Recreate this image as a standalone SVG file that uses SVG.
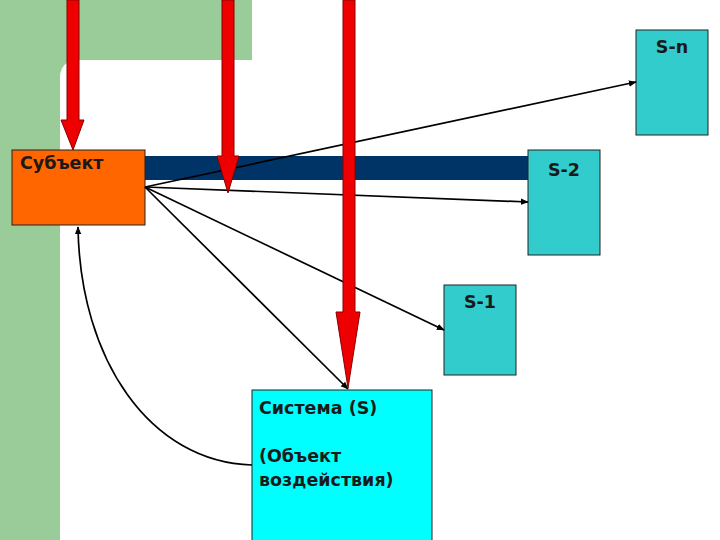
<svg xmlns="http://www.w3.org/2000/svg" width="720" height="540" viewBox="0 0 720 540">
<style>
.lbl{font-family:"DejaVu Sans","Liberation Sans",sans-serif;font-weight:bold;font-size:17.5px;fill:#1a1a1a}
.box{stroke:#222;stroke-width:1}
.con{stroke:#000;stroke-width:1.7;fill:none}
.red{fill:#EE0000;stroke:#880000;stroke-width:1}
</style>
<defs>
<marker id="ah" viewBox="0 0 10 10" refX="9" refY="5" markerWidth="8" markerHeight="8" orient="auto" markerUnits="userSpaceOnUse">
<path d="M0,1 L10,5 L0,9 Z" fill="#000"/>
</marker>
</defs>
<rect width="720" height="540" fill="#fff"/>
<g id="background">
<rect x="0" y="0" width="60" height="540" fill="#99CC99"/>
<path d="M60,0 H252 V60 H75 Q62,62 60,75 Z" fill="#99CC99"/>
<rect x="145" y="156" width="385" height="24" fill="#003366"/>
</g>
<g id="subject">
<rect class="box" x="12" y="150" width="133" height="75" fill="#FF6600"/>
<text class="lbl" x="20" y="169">Субъект</text>
</g>
<g id="s2">
<rect class="box" x="528" y="150" width="72" height="105" fill="#33CCCC"/>
<text class="lbl" x="564" y="176" text-anchor="middle">S-2</text>
</g>
<g id="s1">
<rect class="box" x="444" y="285" width="72" height="90" fill="#33CCCC"/>
<text class="lbl" x="480" y="308" text-anchor="middle">S-1</text>
</g>
<g id="sn">
<rect class="box" x="636" y="30" width="72" height="105" fill="#33CCCC"/>
<text class="lbl" x="672" y="53" text-anchor="middle">S-n</text>
</g>
<g id="system">
<rect class="box" x="252" y="390" width="180" height="155" fill="#00FFFF"/>
<text class="lbl" x="259" y="414">Система (S)</text>
<text class="lbl" x="259" y="462">(Объект</text>
<text class="lbl" x="259" y="486">воздействия)</text>
</g>
<g id="connectors">
<line class="con" x1="145" y1="187" x2="636" y2="82" marker-end="url(#ah)"/>
<line class="con" x1="145" y1="187" x2="528" y2="202" marker-end="url(#ah)"/>
<line class="con" x1="145" y1="187" x2="444" y2="330" marker-end="url(#ah)"/>
<line class="con" x1="145" y1="187" x2="348" y2="389" marker-end="url(#ah)"/>
<path class="con" d="M252,465 C150,462 80,360 78,227" marker-end="url(#ah)"/>
</g>
<g id="red-arrows">
<path class="red" d="M67,0 H79 V120 H84 L73,150 L61,120 H67 Z"/>
<path class="red" d="M222,0 H234 V156 H239 L228,193 L217,156 H222 Z"/>
<path class="red" d="M343,0 H355 V312 H360 L348,388 L336,312 H343 Z"/>
</g>
</svg>
